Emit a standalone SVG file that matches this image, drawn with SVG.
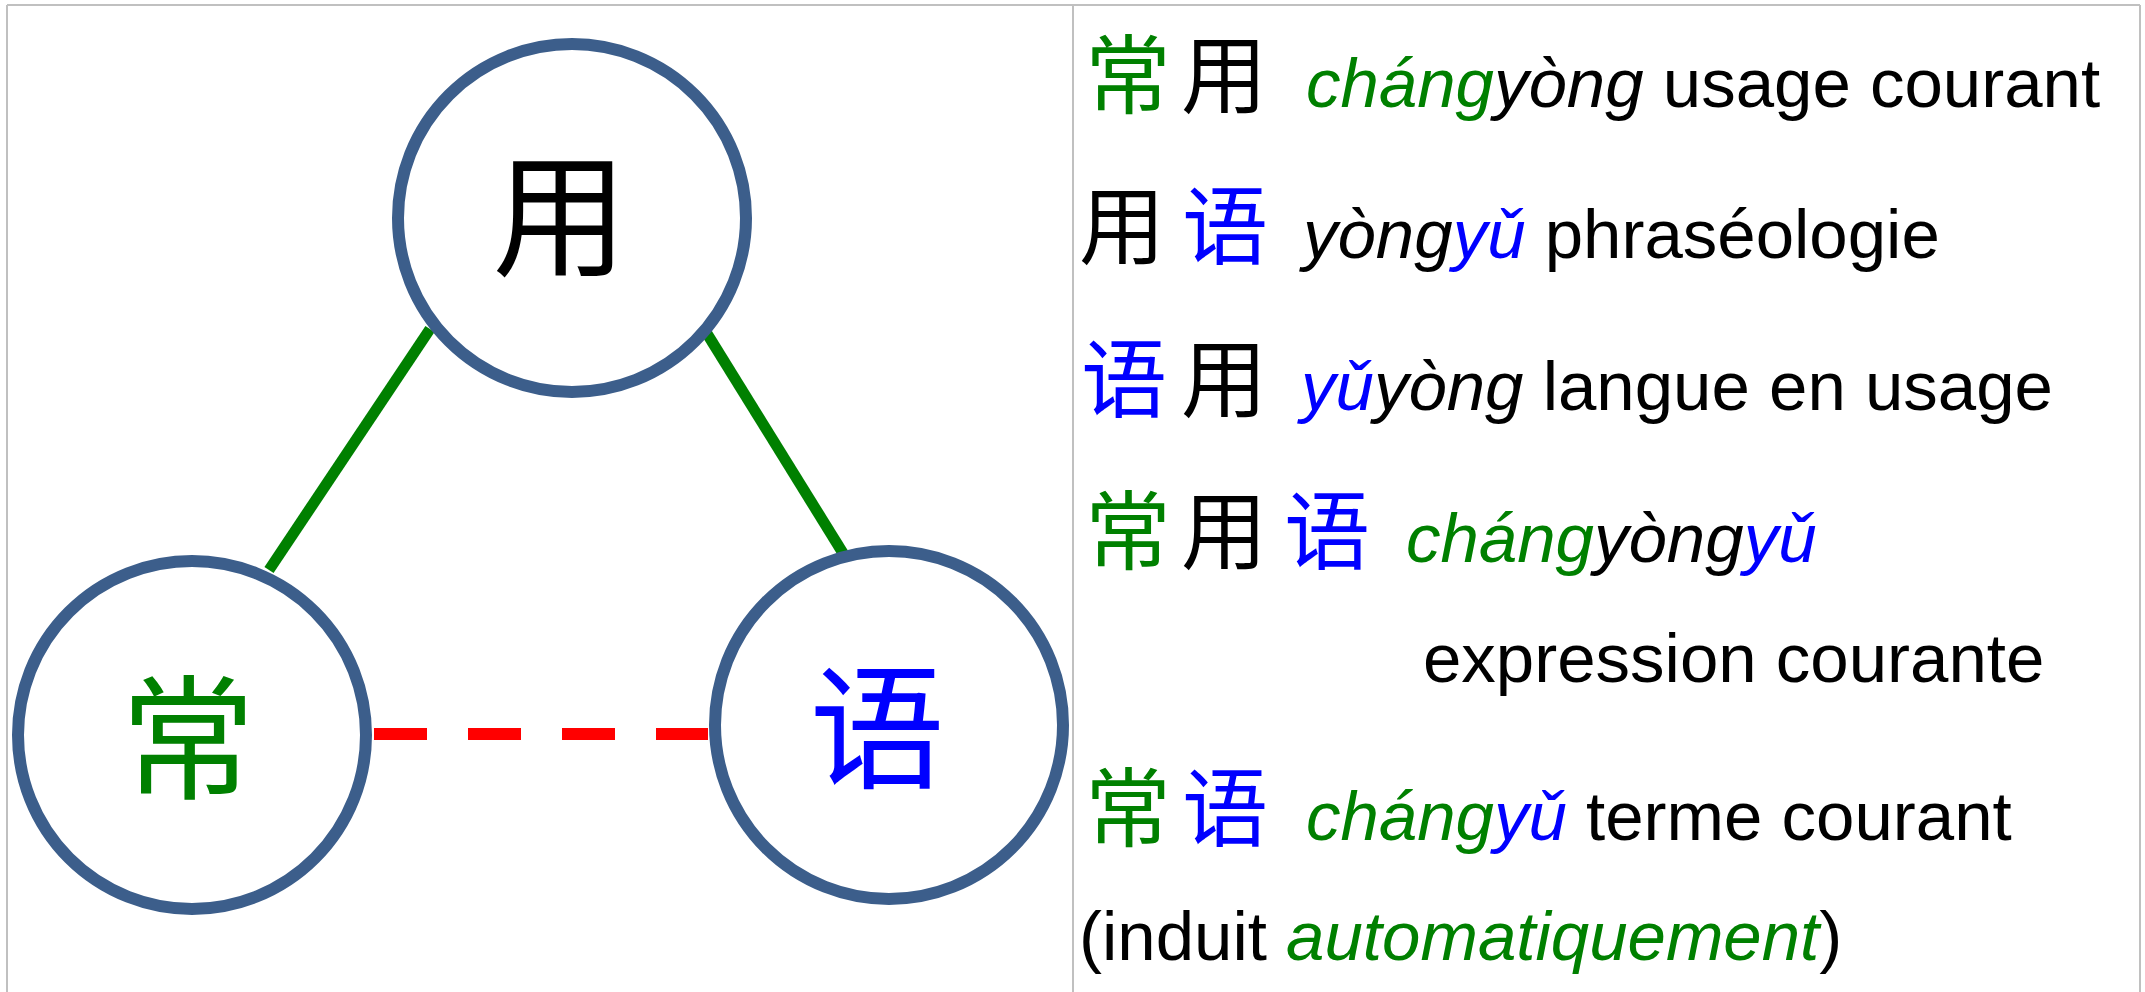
<svg xmlns="http://www.w3.org/2000/svg" width="2145" height="992" viewBox="0 0 2145 992">
<style>
.frame{fill:none;stroke:#c0c0c0;stroke-width:2}
.node circle{fill:#ffffff;stroke:#3c5e8b;stroke-width:12}
.big{font-family:"Noto Sans CJK SC","Noto Sans CJK TC",sans-serif;font-size:135px;text-anchor:middle}
.cjk{font-family:"Noto Sans CJK SC","Noto Sans CJK TC",sans-serif;font-size:86px;text-anchor:middle}
.lat{font-family:"Liberation Sans",Arial,sans-serif;font-size:69px;fill:#000000}
.it{font-style:italic}
.g{fill:#008000}
.b{fill:#0000ff}
.k{fill:#000000}
.solid{stroke:#008000;stroke-width:11;fill:none}
.dash{stroke:#ff0000;stroke-width:12;fill:none;stroke-dasharray:53 41}
</style>
<rect x="0" y="0" width="2145" height="992" fill="#ffffff"/>
<g id="frame">
<line class="frame" x1="7" y1="5" x2="2140" y2="5"/>
<line class="frame" x1="7" y1="5" x2="7" y2="992"/>
<line class="frame" x1="2140" y1="5" x2="2140" y2="992"/>
<line class="frame" x1="1073" y1="5" x2="1073" y2="992"/>
</g>
<g id="connectors">
<line class="solid" x1="430" y1="329" x2="269" y2="570"/>
<line class="solid" x1="706" y1="332" x2="846" y2="558"/>
<line class="dash" x1="374" y1="734" x2="708" y2="734"/>
</g>
<g id="node-yong" class="node">
<circle cx="572" cy="218" r="174"/>
<text class="big k" x="560" y="266">用</text>
</g>
<g id="node-chang" class="node">
<circle cx="192" cy="735" r="174"/>
<text class="big g" x="188" y="789">常</text>
</g>
<g id="node-yu" class="node">
<circle cx="889" cy="725" r="174"/>
<text class="big b" x="877" y="778">语</text>
</g>
<g id="legend">
<text class="cjk g" x="1128" y="107">常</text>
<text class="cjk k" x="1224" y="107">用</text>
<text class="lat" x="1306" y="107"><tspan class="it g">cháng</tspan><tspan class="it">yòng</tspan><tspan> usage courant</tspan></text>

<text class="cjk k" x="1122" y="258">用</text>
<text class="cjk b" x="1225" y="258">语</text>
<text class="lat" x="1303" y="258"><tspan class="it">yòng</tspan><tspan class="it b">yǔ</tspan><tspan> phraséologie</tspan></text>

<text class="cjk b" x="1124" y="411">语</text>
<text class="cjk k" x="1224" y="411">用</text>
<text class="lat" x="1301" y="410"><tspan class="it b">yǔ</tspan><tspan class="it">yòng</tspan><tspan> langue en usage</tspan></text>

<text class="cjk g" x="1128" y="563">常</text>
<text class="cjk k" x="1224" y="563">用</text>
<text class="cjk b" x="1327" y="563">语</text>
<text class="lat" x="1406" y="562"><tspan class="it g">cháng</tspan><tspan class="it">yòng</tspan><tspan class="it b">yǔ</tspan></text>
<text class="lat" x="1423" y="682">expression courante</text>

<text class="cjk g" x="1128" y="840">常</text>
<text class="cjk b" x="1225" y="840">语</text>
<text class="lat" x="1306" y="840"><tspan class="it g">cháng</tspan><tspan class="it b">yǔ</tspan><tspan> terme courant</tspan></text>

<text class="lat" x="1079" y="960">(induit <tspan class="it g">automatiquement</tspan>)</text>
</g>
</svg>
